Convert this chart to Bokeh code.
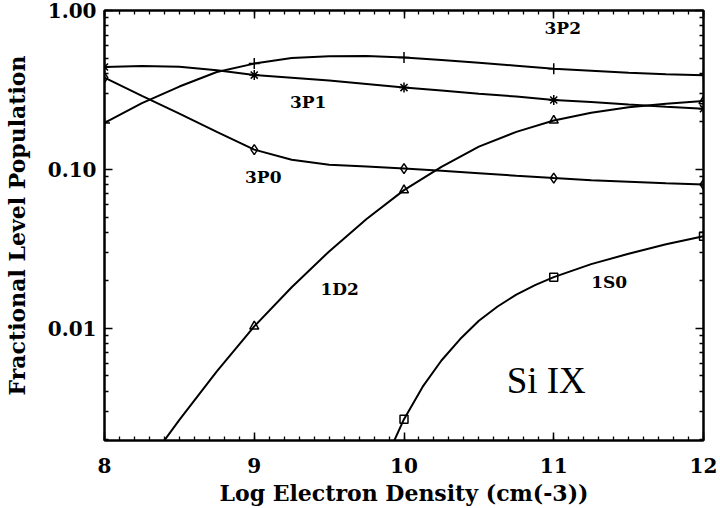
from bokeh.plotting import figure
from bokeh.models import (LinearAxis, LogAxis, FixedTicker, SingleIntervalTicker,
                          PrintfTickFormatter, ColumnDataSource)
from bokeh.core.properties import value
from bokeh.embed import file_html
from bokeh.resources import INLINE

# ---------------- data ----------------
log_ne = [8.0, 8.25, 8.5, 8.75, 9.0, 9.25, 9.5, 9.75, 10.0,
          10.25, 10.5, 10.75, 11.0, 11.25, 11.5, 11.75, 12.0]

pop_3P2 = [0.196, 0.261, 0.332, 0.410, 0.463, 0.502, 0.516, 0.517, 0.505,
           0.487, 0.468, 0.449, 0.430, 0.418, 0.406, 0.397, 0.391]
pop_3P1 = [0.441, 0.447, 0.443, 0.420, 0.392, 0.377, 0.362, 0.345, 0.327,
           0.313, 0.299, 0.287, 0.273, 0.265, 0.256, 0.248, 0.241]
pop_3P0 = [0.378, 0.290, 0.224, 0.172, 0.133, 0.115, 0.107, 0.104, 0.101,
           0.098, 0.0945, 0.091, 0.088, 0.0853, 0.0834, 0.0816, 0.0802]
pop_1D2 = [0.0006, 0.00126, 0.00264, 0.00534, 0.01025, 0.0181, 0.0304, 0.0486, 0.0739,
           0.1035, 0.139, 0.172, 0.203, 0.227, 0.246, 0.259, 0.269]

log_ne_1S0 = [9.75, 9.875, 10.0, 10.125, 10.25, 10.375, 10.5, 10.625, 10.75,
              10.875, 11.0, 11.25, 11.5, 11.75, 12.0]
pop_1S0 = [0.00074, 0.00147, 0.00267, 0.00428, 0.00625, 0.00853, 0.01112, 0.01368, 0.01626,
           0.01866, 0.02094, 0.0253, 0.0294, 0.0337, 0.0379]

level_names = ["3P2", "3P1", "3P0", "1D2", "1S0"]
level_label_x = [11.06, 9.36, 9.06, 9.57, 11.37]
level_label_y = [0.78, 0.264, 0.089, 0.0176, 0.0195]

ion_name = ["Si IX"]
ion_x = [10.95]
ion_y = [0.0047]

y_major = [0.01, 0.1, 1.0]

# ---------------- figure ----------------
FONT = "DejaVu Serif"
p = figure(width=720, height=508, y_axis_type="log",
           x_range=(8, 12), y_range=(0.00196, 1.0),
           output_backend="svg", toolbar_location=None,
           min_border_left=103, min_border_right=17, min_border_top=10, min_border_bottom=0)
p.grid.visible = False
p.outline_line_color = "black"
p.outline_line_width = 2
p.background_fill_color = "white"
p.border_fill_color = "white"

minor_y = [m * 10.0 ** e for e in (-3, -2, -1) for m in range(2, 10)]


def style(ax, labels=True):
    ax.axis_line_color = "black"
    ax.axis_line_width = 2
    ax.major_tick_in = 8
    ax.major_tick_out = 0
    ax.minor_tick_in = 4
    ax.minor_tick_out = 0
    ax.major_tick_line_color = "black"
    ax.minor_tick_line_color = "black"
    ax.major_tick_line_width = 1.5
    ax.minor_tick_line_width = 1.3
    ax.major_label_text_font = FONT
    ax.major_label_text_font_style = "bold"
    ax.axis_label_text_font = FONT
    ax.axis_label_text_font_style = "bold"
    ax.axis_label_text_color = "black"
    ax.axis_label_text_font_size = "22px"
    if labels:
        ax.major_label_text_font_size = "20px"
        ax.major_label_text_color = "black"
    else:
        ax.major_label_text_font_size = "1px"
        ax.major_label_text_color = None
        ax.major_label_standoff = 0


xb = p.below[0]
style(xb)
xb.ticker = SingleIntervalTicker(interval=1, num_minor_ticks=10)
xb.major_label_standoff = 17
xb.axis_label = "Log Electron Density (cm(-3))"
xb.axis_label_standoff = 4

yl = p.left[0]
style(yl)
yl.ticker = FixedTicker(ticks=y_major, minor_ticks=minor_y)
yl.formatter = PrintfTickFormatter(format="%.2f")
yl.major_label_standoff = 8
yl.axis_label = "Fractional Level Population"
yl.axis_label_standoff = 15

yr = LogAxis(ticker=FixedTicker(ticks=y_major, minor_ticks=minor_y))
style(yr, labels=False)
p.add_layout(yr, "right")

xt = LinearAxis(ticker=SingleIntervalTicker(interval=1, num_minor_ticks=10))
style(xt, labels=False)
p.add_layout(xt, "above")


def at_integers(xs, ys):
    pts = [(a, b) for a, b in zip(xs, ys) if float(a).is_integer()]
    return [a for a, _ in pts], [b for _, b in pts]


# ---------------- curves ----------------
series = [
    (log_ne, pop_3P2, "cross", 11),
    (log_ne, pop_3P1, "asterisk", 10),
    (log_ne, pop_3P0, "diamond", 10),
    (log_ne, pop_1D2, "triangle", 9),
    (log_ne_1S0, pop_1S0, "square", 8),
]
for xs, ys, mk, sz in series:
    p.line(xs, ys, line_color="black", line_width=2)
    mx, my = at_integers(xs, ys)
    p.scatter(mx, my, marker=mk, size=sz, line_color="black",
              fill_color=None, line_width=1.5)

# ---------------- labels ----------------
lab_src = ColumnDataSource(dict(x=level_label_x, y=level_label_y, t=level_names))
p.text(x="x", y="y", text="t", source=lab_src, text_align="center",
       text_baseline="middle", text_font=value(FONT), text_font_style="bold",
       text_font_size="17px", text_color="black")

ion_src = ColumnDataSource(dict(x=ion_x, y=ion_y, t=ion_name))
p.text(x="x", y="y", text="t", source=ion_src, text_align="center",
       text_baseline="middle", text_font=value("Liberation Serif"),
       text_font_size="37px", text_color="black")

open("out.html", "w").write(file_html(p, INLINE))
